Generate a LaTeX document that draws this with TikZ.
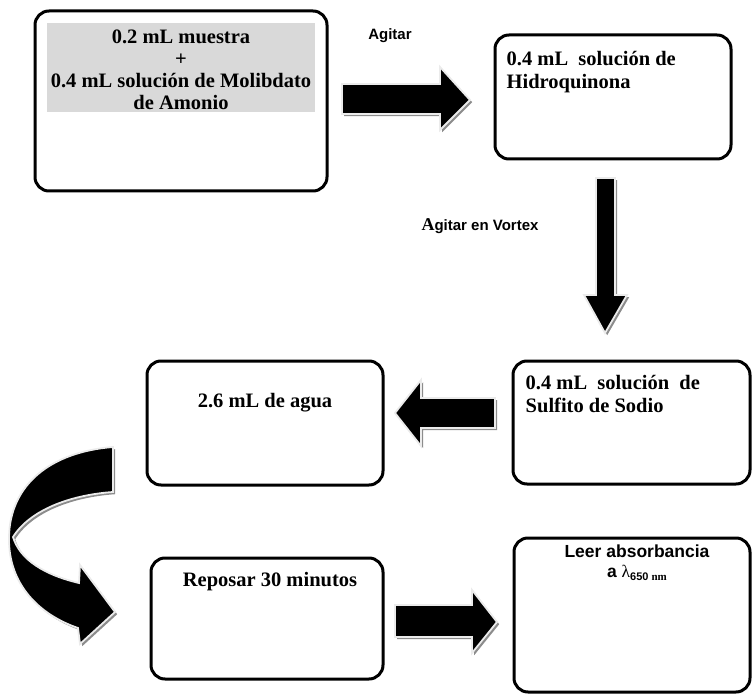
\documentclass[tikz,border=0pt]{standalone}
\usepackage{fontspec}
\setmainfont{Liberation Serif}
\setsansfont{Liberation Sans}
\newfontfamily\serifgr{Liberation Serif}
\usetikzlibrary{positioning,shadows}

\begin{document}
\begin{tikzpicture}[x=1pt,y=-1pt,
  every node/.style={inner sep=0pt},
  caja/.style={draw,line width=3pt,rounded corners=14pt},
  txt/.style={font=\bfseries\fontsize{20.5}{23}\selectfont,align=left},
  txtc/.style={font=\bfseries\fontsize{20.5}{23}\selectfont,align=center},
  etiq/.style={font=\sffamily\bfseries\fontsize{15}{17}\selectfont},
  flecha/.style={fill=black,draw=black!8,line width=1.8pt,line join=miter,
    drop shadow={shadow xshift=2.2pt,shadow yshift=-2.2pt,fill=black!45,opacity=1}}]
\useasboundingbox (0,0) rectangle (753,695);
% cajas
\node[caja,minimum width=292pt,minimum height=180pt] (b1) at (181,101) {};
\node[caja,minimum width=236pt,minimum height=124pt] (b2) at (613,97) {};
\node[caja,minimum width=237pt,minimum height=123pt] (b3) at (631.5,422.5) {};
\node[caja,minimum width=236pt,minimum height=124pt] (b4) at (265,423) {};
\node[caja,minimum width=232pt,minimum height=121pt] (b5) at (267,618.5) {};
\node[caja,minimum width=236pt,minimum height=154pt] (b6) at (632,615) {};
% textos
\node[fill=black!15,minimum width=268pt,minimum height=89pt,below=13pt of b1.north] (g1) {};
\node[txtc,font=\bfseries\fontsize{20.5}{22}\selectfont,yshift=-2.5pt] (t1) at (g1.center)
  {0.2 mL muestra\\+\\0.4 mL solución de Molibdato\\de Amonio};
\node[txt,below right=18pt and 13pt of b2.north west] (t2) {0.4 mL \ solución de\\ Hidroquinona};
\node[txt,below right=16pt and 14pt of b3.north west] (t3) {0.4 mL \ solución \ de\\Sulfito de Sodio};
\node[txtc,below=34pt of b4.north] (t4) {2.6 mL de agua};
\node[txtc,below=16pt of b5.north,xshift=3pt] (t5) {Reposar 30 minutos};
\node[font=\sffamily\bfseries\fontsize{17.5}{20}\selectfont,align=center,below=8pt of b6.north,xshift=5pt] (t6)
  {Leer absorbancia\\a {\serifgr\mdseries λ}\raisebox{-3pt}{\fontsize{11}{11}\selectfont 650 {\serifgr nm}}};
\node[etiq] (ag1) at (390,36) {Agitar};
\node[etiq] (ag2) at (480,226) {{\serifgr\fontsize{18}{18}\selectfont A}gitar en Vortex};
% flechas
\path[flecha] (342,84) -- (440,84) -- (440,67) -- (470,100) -- (440,130) -- (440,114) -- (342,114) -- cycle;
\path[flecha] (596,178) -- (615,178) -- (615,295) -- (627,295) -- (605,333) -- (584,295) -- (596,295) -- cycle;
\path[flecha] (495,398) -- (421,398) -- (421,380) -- (395,413) -- (421,446) -- (421,428) -- (495,428) -- cycle;
\path[flecha] (395,605) -- (472,605) -- (472,590) -- (497,622) -- (472,653) -- (472,637) -- (395,637) -- cycle;
\path[flecha] (113,447) .. controls (50,452) and (10,485) .. (9,537)
  .. controls (8,585) and (40,615) .. (78,628) -- (80,644) -- (115,612) -- (80,565) -- (79,583)
  .. controls (45,575) and (20,560) .. (13,537)
  .. controls (30,510) and (70,495) .. (113,492) -- cycle;
\end{tikzpicture}
\end{document}
